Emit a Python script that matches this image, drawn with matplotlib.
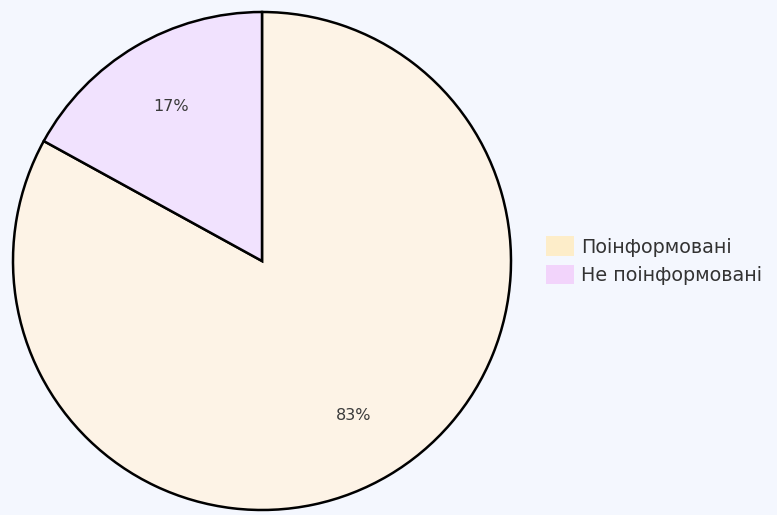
import matplotlib.pyplot as plt
from matplotlib.patches import Patch

# дані
labels = ['Поінформовані', 'Не поінформовані']
values = [83, 17]
slice_colors = ['#fdf3e6', '#f1e2fe']
legend_colors = ['#fdedc9', '#f2d4fb']

bg = '#f4f7fe'
fig = plt.figure(figsize=(7.77, 5.15), dpi=100)
fig.patch.set_facecolor(bg)
ax = fig.add_axes([0, 0, 1, 1])
ax.set_facecolor(bg)

# центр круга і радіус у пікселях
cx, cy, r = 262, 261, 249
W, H = 777, 515

wedges, texts, autotexts = ax.pie(
    values, colors=slice_colors, startangle=90, counterclock=False,
    autopct='%1.0f%%', pctdistance=0.72, radius=1,
    wedgeprops=dict(edgecolor='black', linewidth=1.8),
    textprops=dict(fontsize=11.5, color='#3a3a3a'))

ax.set_xlim(-cx / r, (W - cx) / r)
ax.set_ylim(-(H - cy) / r, cy / r)
ax.set_aspect('equal')
ax.axis('off')

handles = [Patch(facecolor=c, edgecolor='none') for c in legend_colors]
fig.legend(handles, labels, loc='center left', bbox_to_anchor=(0.681, 0.494),
           frameon=False, fontsize=13.8, labelcolor='#333333',
           handlelength=1.45, handleheight=1.2, handletextpad=0.35, labelspacing=0.42)

plt.savefig('out.png', dpi=100, facecolor=bg)
